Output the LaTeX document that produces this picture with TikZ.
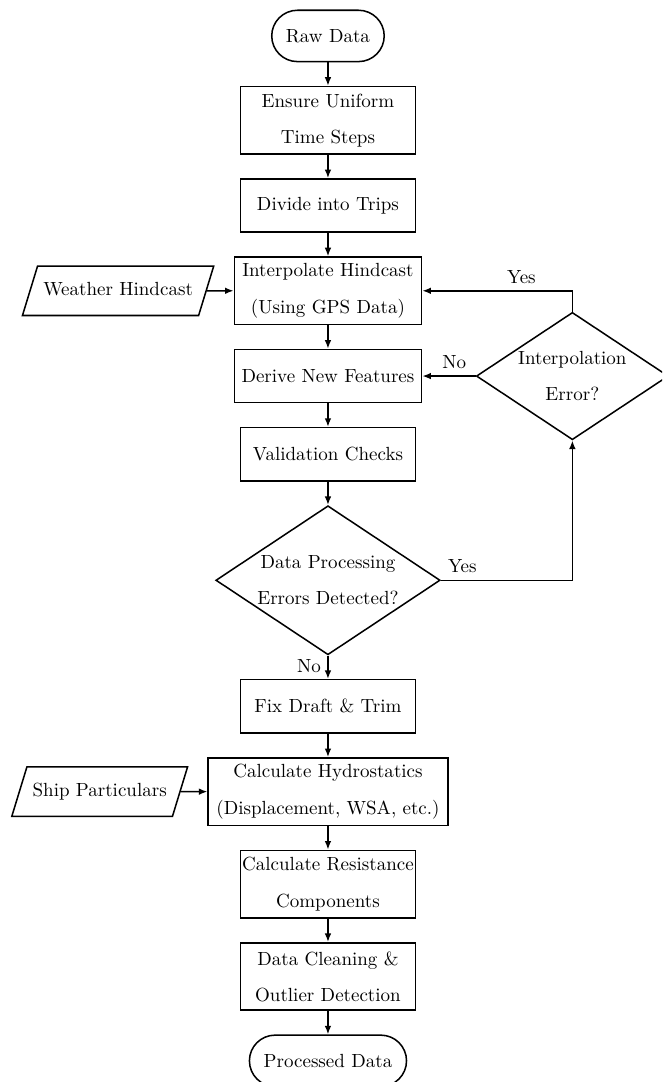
\documentclass[tikz,border=0pt]{standalone}
\usepackage{tikz}
\usetikzlibrary{positioning,arrows.meta,shapes.geometric}
\tikzset{
    terminal/.style={rectangle, draw, thick, rounded corners=13.5pt, minimum height=27pt, inner xsep=7.5pt},
    process/.style={rectangle, draw, thick, align=center, minimum width=92pt, minimum height=28pt, inner xsep=1pt, inner ysep=3.5pt},
    tall process/.style={process, minimum height=35.5pt},
    wide process/.style={process, minimum width=98.5pt},
    decision/.style={diamond, draw, thick, align=center, aspect=1.6, inner sep=0pt},
    data input/.style={trapezium, trapezium left angle=73, trapezium right angle=107, draw, thick, text height=6.9pt, text depth=1.9pt, inner ysep=8.6pt, inner xsep=3pt},
    flow/.style={-{Latex[length=4.5pt,width=3.5pt]}, thick}
}

\begin{document}
\begin{tikzpicture}[node distance=12.3pt]
    \useasboundingbox (0,0) rectangle (348.2pt,-569.1pt);
    \clip (0,0) rectangle (348.2pt,-569.1pt);

    % Main chain
    \node[terminal] (raw) at (172.5pt,-18.9pt) {Raw Data};
    \node[tall process, below=of raw] (ensure) {Ensure Uniform\\[7pt]Time Steps};
    \node[process, below=of ensure] (divide) {Divide into Trips};
    \node[wide process, minimum height=35.5pt, below=of divide] (interp) {Interpolate Hindcast\\[7pt](Using GPS Data)};
    \node[wide process, below=of interp] (derive) {Derive New Features};
    \node[process, below=of derive] (valid) {Validation Checks};
    \node[decision, minimum width=118pt, minimum height=78.4pt, below=of valid] (dperr) {Data Processing\\[7pt]Errors Detected?};
    \node[process, below=of dperr] (fix) {Fix Draft \& Trim};
    \node[tall process, minimum width=126pt, below=of fix] (hydro) {Calculate Hydrostatics\\[7pt](Displacement, WSA, etc.)};
    \node[tall process, below=of hydro] (resist) {Calculate Resistance\\[7pt]Components};
    \node[tall process, below=of resist] (clean) {Data Cleaning \&\\[7pt]Outlier Detection};
    \node[terminal, below=of clean] (processed) {Processed Data};

    % Side inputs and the interpolation check
    \node[data input, left=14pt of interp] (weather) {Weather Hindcast};
    \node[data input, left=14pt of hydro] (ship) {Ship Particulars};
    \node[decision, minimum width=101pt, minimum height=67pt, right=28pt of derive] (interr) {Interpolation\\[7pt]Error?};

    % Connections
    \draw[flow] (raw) -- (ensure);
    \draw[flow] (ensure) -- (divide);
    \draw[flow] (divide) -- (interp);
    \draw[flow] (interp) -- (derive);
    \draw[flow] (derive) -- (valid);
    \draw[flow] (valid) -- (dperr);
    \draw[flow] (dperr) -- node[pos=0.45, left] {No} (fix);
    \draw[flow] (fix) -- (hydro);
    \draw[flow] (hydro) -- (resist);
    \draw[flow] (resist) -- (clean);
    \draw[flow] (clean) -- (processed);
    \draw[flow] (weather) -- (interp);
    \draw[flow] (ship) -- (hydro);
    \draw[flow] (interr) -- node[pos=0.4, above] {No} (derive);
    \draw[flow] (interr.north) |- node[pos=0.67, above] {Yes} (interp.east);
    \draw[flow] (dperr.east) -| node[pos=0, above right] {Yes} (interr.south);
\end{tikzpicture}
\end{document}
